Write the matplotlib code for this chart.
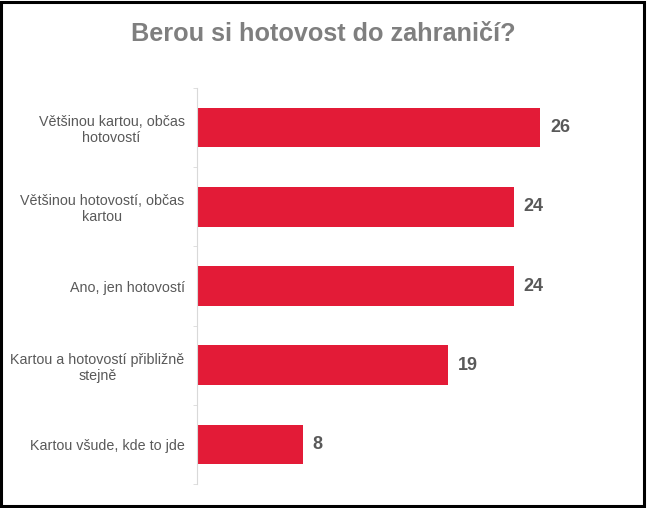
import numpy as np
import matplotlib.pyplot as plt
from matplotlib.patches import Rectangle

categories = [
    "Většinou kartou, občas\nhotovostí",
    "Většinou hotovostí, občas\nkartou",
    "Ano, jen hotovostí",
    "Kartou a hotovostí přibližně\nstejně",
    "Kartou všude, kde to jde",
]
values = [26, 24, 24, 19, 8]
title = "Berou si hotovost do zahraničí?"

plt.rcParams["font.family"] = ["Liberation Sans", "DejaVu Sans"]

fig = plt.figure(figsize=(6.47, 5.08), dpi=100)
ax = fig.add_axes([0.3045, 0.047, 0.612, 0.78])

y = np.arange(len(categories))
ax.barh(y, values, height=0.5, color="#E31B37")
ax.set_ylim(len(categories) - 0.5, -0.5)
ax.set_xlim(0, 30)

for yi, v in zip(y, values):
    ax.text(v + 0.75, yi, str(v), va="center", ha="left",
            fontsize=13, fontweight="bold", color="#595959")

ax.set_yticks(y)
ax.set_yticklabels(categories, multialignment="center")
ax.set_yticks(np.arange(-0.5, len(categories)), minor=True)
ax.tick_params(axis="y", which="major", length=0, pad=9,
               labelsize=10.3, labelcolor="#595959")
ax.tick_params(axis="y", which="minor", length=3, color="#d9d9d9")
ax.set_xticks([])
for s in ["top", "right", "bottom"]:
    ax.spines[s].set_visible(False)
ax.spines["left"].set_color("#d9d9d9")

fig.text(0.5, 0.933, title, ha="center", va="center",
         fontsize=18.2, fontweight="bold", color="#7f7f7f")

fig.patches.append(Rectangle((0.002, 0.003), 0.994, 0.994, transform=fig.transFigure,
                             fill=False, edgecolor="black", linewidth=2.2))

fig.savefig("out.png", dpi=100)
